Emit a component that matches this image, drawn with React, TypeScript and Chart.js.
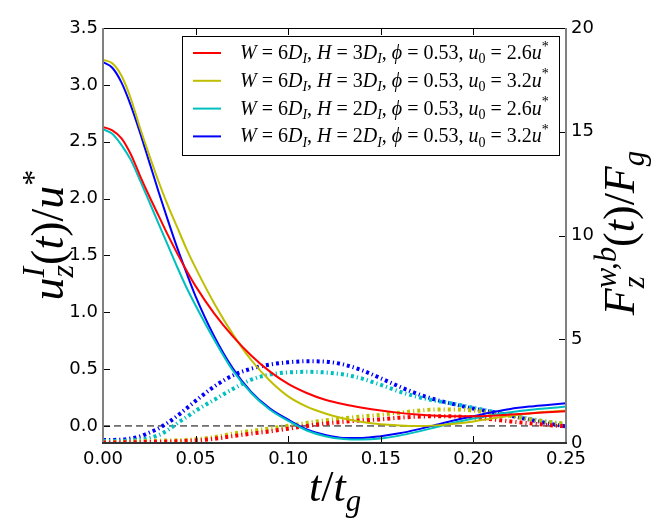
import React, { useEffect, useRef } from 'react'
import { Chart, registerables } from 'chart.js'

Chart.register(...registerables)

// time axis t/t_g
const TIME = [0, 0.005, 0.01, 0.015, 0.02, 0.025, 0.03, 0.035, 0.04, 0.045, 0.05,
  0.06, 0.07, 0.08, 0.09, 0.10, 0.11, 0.12, 0.13, 0.14, 0.15,
  0.16, 0.17, 0.18, 0.19, 0.20, 0.21, 0.22, 0.23, 0.24, 0.25]

// u_z^I / u*  (left axis, solid)
const U_H3_U26 = [2.63, 2.60, 2.53, 2.39, 2.20, 2.02, 1.85, 1.68, 1.52, 1.37, 1.23,
  0.99, 0.79, 0.62, 0.48, 0.37, 0.29, 0.23, 0.19, 0.16, 0.135,
  0.115, 0.10, 0.09, 0.085, 0.085, 0.09, 0.10, 0.11, 0.12, 0.13]
const U_H3_U32 = [3.22, 3.19, 3.08, 2.88, 2.62, 2.38, 2.15, 1.94, 1.75, 1.56, 1.39,
  1.08, 0.81, 0.58, 0.40, 0.26, 0.17, 0.11, 0.065, 0.035, 0.015,
  0.005, 0.0, 0.005, 0.02, 0.04, 0.065, 0.09, 0.11, 0.125, 0.135]
const U_H2_U26 = [2.61, 2.57, 2.47, 2.34, 2.16, 1.97, 1.78, 1.59, 1.40, 1.22, 1.06,
  0.76, 0.49, 0.29, 0.145, 0.045, -0.04, -0.09, -0.115, -0.12, -0.11,
  -0.085, -0.05, -0.01, 0.03, 0.065, 0.095, 0.12, 0.14, 0.155, 0.17]
const U_H2_U32 = [3.20, 3.15, 3.02, 2.82, 2.58, 2.32, 2.06, 1.81, 1.57, 1.35, 1.14,
  0.79, 0.51, 0.30, 0.155, 0.055, -0.03, -0.08, -0.105, -0.105, -0.09,
  -0.065, -0.03, 0.01, 0.05, 0.085, 0.12, 0.15, 0.17, 0.185, 0.20]

// F_z^{w,b} / F_g  (right axis, dotted)
const F_H3_U26 = [0.03, 0.03, 0.03, 0.04, 0.04, 0.05, 0.06, 0.07, 0.08, 0.10, 0.12,
  0.20, 0.33, 0.45, 0.56, 0.69, 0.82, 0.94, 1.02, 1.09, 1.14,
  1.22, 1.27, 1.29, 1.28, 1.23, 1.14, 1.04, 0.95, 0.87, 0.80]
const F_H3_U32 = [0.03, 0.04, 0.05, 0.07, 0.09, 0.10, 0.11, 0.12, 0.13, 0.15, 0.18,
  0.28, 0.45, 0.58, 0.70, 0.83, 0.97, 1.09, 1.19, 1.28, 1.36,
  1.46, 1.55, 1.62, 1.62, 1.56, 1.44, 1.30, 1.15, 1.02, 0.93]
const F_H2_U26 = [0.10, 0.10, 0.10, 0.12, 0.16, 0.24, 0.38, 0.62, 0.95, 1.24, 1.55,
  2.08, 2.60, 3.05, 3.30, 3.40, 3.43, 3.40, 3.30, 3.10, 2.80,
  2.48, 2.22, 2.03, 1.88, 1.70, 1.52, 1.35, 1.17, 1.02, 0.88]
const F_H2_U32 = [0.15, 0.15, 0.16, 0.22, 0.32, 0.50, 0.70, 0.98, 1.30, 1.66, 2.03,
  2.72, 3.25, 3.58, 3.78, 3.89, 3.94, 3.92, 3.78, 3.50, 3.12,
  2.72, 2.36, 2.08, 1.86, 1.66, 1.50, 1.32, 1.13, 0.95, 0.80]

const X_TICKS = [0, 0.05, 0.1, 0.15, 0.2, 0.25]
const U_TICKS = [0, 0.5, 1, 1.5, 2, 2.5, 3, 3.5]
const F_TICKS = [0, 5, 10, 15, 20]

const CASE_H = [3, 3, 2, 2]
const CASE_U0 = [2.6, 3.2, 2.6, 3.2]
const COLORS = ['#ff0000', '#bfbf00', '#00bfbf', '#0000ff']
const U_SERIES = [U_H3_U26, U_H3_U32, U_H2_U26, U_H2_U32]
const F_SERIES = [F_H3_U26, F_H3_U32, F_H2_U26, F_H2_U32]

type Tok = { t: string; i?: boolean; d?: 'sub' | 'sup'; stack?: boolean }

const MATH_FONT = '"Liberation Serif", "DejaVu Serif", serif'

function placeMath(ctx: CanvasRenderingContext2D, toks: Tok[], size: number) {
  let x = 0
  let prevStart = 0
  const out: { k: Tok; x: number; fs: number; dy: number }[] = []
  for (const k of toks) {
    const fs = k.d ? size * 0.7 : size
    ctx.font = `${k.i ? 'italic ' : ''}${fs}px ${MATH_FONT}`
    const w = ctx.measureText(k.t).width
    const start = k.stack ? prevStart : x
    const dy = k.d === 'sub' ? size * 0.22 : k.d === 'sup' ? -size * 0.42 : 0
    out.push({ k, x: start, fs, dy })
    if (k.stack) {
      x = Math.max(x, start + w)
    } else {
      prevStart = start
      x = start + w
    }
  }
  return { items: out, width: x }
}

function drawMath(ctx: CanvasRenderingContext2D, toks: Tok[], x: number, y: number, size: number, center: boolean) {
  const { items, width } = placeMath(ctx, toks, size)
  const x0 = center ? x - width / 2 : x
  ctx.textBaseline = 'alphabetic'
  ctx.textAlign = 'left'
  ctx.fillStyle = '#000'
  for (const it of items) {
    ctx.font = `${it.k.i ? 'italic ' : ''}${it.fs}px ${MATH_FONT}`
    ctx.fillText(it.k.t, x0 + it.x, y + it.dy)
  }
}

const LEFT_TITLE: Tok[] = [
  { t: 'u', i: true }, { t: 'z', i: true, d: 'sub' }, { t: 'I', i: true, d: 'sup', stack: true },
  { t: '(' }, { t: 't', i: true }, { t: ')' }, { t: '/' }, { t: 'u', i: true }, { t: '*', d: 'sup' },
]
const RIGHT_TITLE: Tok[] = [
  { t: 'F', i: true }, { t: 'z', i: true, d: 'sub' }, { t: 'w,b', i: true, d: 'sup', stack: true },
  { t: '(' }, { t: 't', i: true }, { t: ')' }, { t: '/' }, { t: 'F', i: true }, { t: 'g', i: true, d: 'sub' },
]
const X_TITLE: Tok[] = [{ t: 't', i: true }, { t: '/' }, { t: 't', i: true }, { t: 'g', i: true, d: 'sub' }]

function legendTokens(h: number, u0: number): Tok[] {
  return [
    { t: 'W', i: true }, { t: ' = ' }, { t: '6' }, { t: 'D', i: true }, { t: 'I', i: true, d: 'sub' },
    { t: ', ' }, { t: 'H', i: true }, { t: ' = ' }, { t: String(h) }, { t: 'D', i: true }, { t: 'I', i: true, d: 'sub' },
    { t: ', ' }, { t: 'ϕ', i: true }, { t: ' = ' }, { t: '0.53' },
    { t: ', ' }, { t: 'u', i: true }, { t: '0', d: 'sub' }, { t: ' = ' }, { t: u0.toFixed(1) },
    { t: 'u', i: true }, { t: '*', d: 'sup' },
  ]
}

const decorPlugin = {
  id: 'decor',
  afterDatasetsDraw(chart: Chart) {
    const { ctx, chartArea: a, scales } = chart
    const sx = scales.x, sl = scales.y, sr = scales.y1
    ctx.save()

    // inward ticks
    ctx.strokeStyle = '#000'
    ctx.lineWidth = 1
    ctx.beginPath()
    for (const v of X_TICKS) {
      const px = Math.round(sx.getPixelForValue(v)) + 0.5
      ctx.moveTo(px, a.bottom); ctx.lineTo(px, a.bottom - 7)
      ctx.moveTo(px, a.top); ctx.lineTo(px, a.top + 7)
    }
    for (const v of U_TICKS) {
      const py = Math.round(sl.getPixelForValue(v)) + 0.5
      ctx.moveTo(a.left, py); ctx.lineTo(a.left + 7, py)
    }
    for (const v of F_TICKS) {
      const py = Math.round(sr.getPixelForValue(v)) + 0.5
      ctx.moveTo(a.right, py); ctx.lineTo(a.right - 7, py)
    }
    ctx.stroke()

    // frame
    ctx.lineWidth = 1
    ctx.strokeStyle = '#000'
    ctx.beginPath(); ctx.moveTo(a.left, a.top + 0.5); ctx.lineTo(a.right, a.top + 0.5); ctx.stroke()
    ctx.lineWidth = 2
    ctx.strokeStyle = '#808080'
    ctx.beginPath(); ctx.moveTo(a.left, a.top); ctx.lineTo(a.left, a.bottom); ctx.stroke()
    ctx.beginPath(); ctx.moveTo(a.right, a.top); ctx.lineTo(a.right, a.bottom); ctx.stroke()
    ctx.strokeStyle = '#333'
    ctx.beginPath(); ctx.moveTo(a.left - 1, a.bottom); ctx.lineTo(a.right + 1, a.bottom); ctx.stroke()

    // legend
    const lx = 182, ly = 36, lw = 377, lh = 119
    ctx.fillStyle = '#fff'
    ctx.fillRect(lx, ly, lw, lh)
    ctx.strokeStyle = '#000'
    ctx.lineWidth = 1
    ctx.strokeRect(lx + 0.5, ly + 0.5, lw, lh)
    CASE_H.forEach((h, i) => {
      const ry = 53 + i * 27.8
      ctx.strokeStyle = COLORS[i]
      ctx.lineWidth = 2
      ctx.beginPath(); ctx.moveTo(193, ry); ctx.lineTo(221, ry); ctx.stroke()
      drawMath(ctx, legendTokens(h, CASE_U0[i]), 240, ry + 6, 20, false)
    })

    // axis titles
    drawMath(ctx, X_TITLE, 335, 501, 44, true)
    ctx.save()
    ctx.translate(63, 235)
    ctx.rotate(-Math.PI / 2)
    drawMath(ctx, LEFT_TITLE, 0, 0, 46, true)
    ctx.restore()
    ctx.save()
    ctx.translate(634, 233)
    ctx.rotate(-Math.PI / 2)
    drawMath(ctx, RIGHT_TITLE, 0, 0, 44, true)
    ctx.restore()

    ctx.restore()
  },
}

const TICK_FONT = { family: '"DejaVu Sans", sans-serif', size: 18 }

export default function App() {
  const canvasRef = useRef<HTMLCanvasElement>(null)
  const chartRef = useRef<Chart | null>(null)

  useEffect(() => {
    if (!canvasRef.current) return
    chartRef.current?.destroy()

    const solid = U_SERIES.map((vals, i) => ({
      label: `u${i}`,
      data: TIME.map((t, j) => ({ x: t, y: vals[j] })),
      borderColor: COLORS[i],
      borderWidth: 2,
      pointRadius: 0,
      cubicInterpolationMode: 'monotone' as const,
      yAxisID: 'y',
      order: 1,
    }))
    const dotted = F_SERIES.map((vals, i) => ({
      label: `f${i}`,
      data: TIME.map((t, j) => ({ x: t, y: vals[j] })),
      borderColor: COLORS[i],
      borderWidth: 4,
      borderDash: [3, 3, 1.2, 3],
      pointRadius: 0,
      cubicInterpolationMode: 'monotone' as const,
      yAxisID: 'y1',
      order: 2,
    }))
    const zero = {
      label: 'zero',
      data: [{ x: X_TICKS[0], y: 0 }, { x: X_TICKS[X_TICKS.length - 1], y: 0 }],
      borderColor: '#000',
      borderWidth: 1,
      borderDash: [7, 4],
      pointRadius: 0,
      yAxisID: 'y',
      order: 10,
    }

    chartRef.current = new Chart(canvasRef.current, {
      type: 'line',
      data: { datasets: [...solid, ...dotted, zero] as any },
      plugins: [decorPlugin],
      options: {
        animation: false,
        responsive: true,
        maintainAspectRatio: false,
        layout: { padding: { top: 28, left: 0, right: 0, bottom: 0 } },
        plugins: { legend: { display: false }, tooltip: { enabled: false } },
        scales: {
          x: {
            type: 'linear',
            min: 0,
            max: 0.25,
            grid: { display: false, drawTicks: false },
            border: { display: false },
            afterBuildTicks: (s: any) => { s.ticks = X_TICKS.map(v => ({ value: v })) },
            afterFit: (s: any) => { s.height = 89 },
            ticks: { font: TICK_FONT, color: '#000', padding: 6, maxRotation: 0, callback: (v: any) => Number(v).toFixed(2) },
          },
          y: {
            type: 'linear',
            position: 'left',
            min: -0.15,
            max: 3.5,
            grid: { display: false, drawTicks: false },
            border: { display: false },
            afterBuildTicks: (s: any) => { s.ticks = U_TICKS.map(v => ({ value: v })) },
            afterFit: (s: any) => { s.width = 103 },
            ticks: { font: TICK_FONT, color: '#000', padding: 5, callback: (v: any) => Number(v).toFixed(1) },
          },
          y1: {
            type: 'linear',
            position: 'right',
            min: 0,
            max: 20,
            grid: { display: false, drawTicks: false },
            border: { display: false },
            afterBuildTicks: (s: any) => { s.ticks = F_TICKS.map(v => ({ value: v })) },
            afterFit: (s: any) => { s.width = 98 },
            ticks: { font: TICK_FONT, color: '#000', padding: 5, callback: (v: any) => String(v) },
          },
        },
      },
    })

    return () => {
      chartRef.current?.destroy()
      chartRef.current = null
    }
  }, [])

  return (
    <div style={{ position: 'fixed', left: 0, top: 0, width: 664, height: 532, background: '#fff' }}>
      <canvas ref={canvasRef} />
    </div>
  )
}
